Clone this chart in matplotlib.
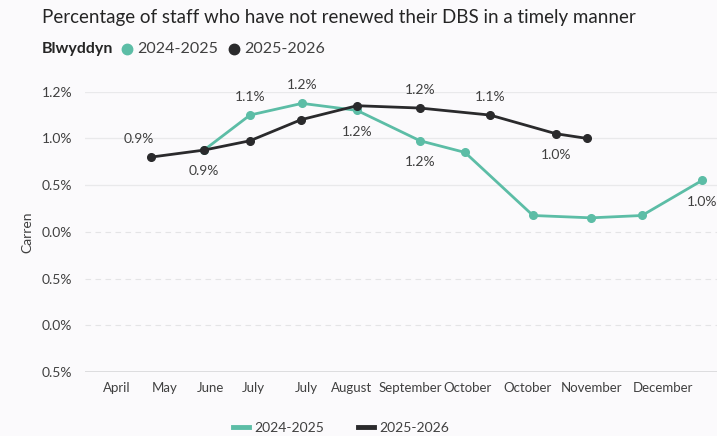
import matplotlib.pyplot as plt
from matplotlib.lines import Line2D

plt.rcParams['font.family'] = ['Lato', 'DejaVu Sans']

# x positions on a continuous scale (axis runs 0 .. 63.2)
tick_pos = [3.2, 8.0, 12.5, 16.8, 22.1, 26.7, 32.5, 38.3, 44.3, 50.7, 57.8]
tick_labels = ['April', 'May', 'June', 'July', 'July', 'August', 'September',
               'October', 'October', 'November', 'December']

x_2425 = [11.9, 16.5, 21.7, 27.2, 33.5, 38.0, 44.8, 50.6, 55.7, 61.7]
y_2425 = [0.95, 1.10, 1.15, 1.12, 0.99, 0.94, 0.67, 0.66, 0.67, 0.82]

x_2526 = [6.6, 11.9, 16.5, 21.6, 27.2, 33.5, 40.5, 47.1, 50.2]
y_2526 = [0.92, 0.95, 0.99, 1.08, 1.14, 1.13, 1.10, 1.02, 1.00]

# data labels: (index, text, above?)
labels_2425 = [(1, '1.1%', True), (2, '1.2%', True), (3, '1.2%', False),
               (4, '1.2%', False), (9, '1.0%', False)]
labels_2526 = [(0, '0.9%', True), (1, '0.9%', False), (5, '1.2%', True),
               (6, '1.1%', True), (7, '1.0%', False)]

yticks = [0.0, 0.2, 0.4, 0.6, 0.8, 1.0, 1.2]
ytick_labels = ['0.5%', '0.0%', '0.5%', '0.0%', '0.5%', '1.0%', '1.2%']

teal = '#5cbda6'
dark = '#2a2a2c'
bg = '#fbfafc'
txt = '#404040'

fig = plt.figure(figsize=(7.17, 4.36), dpi=100, facecolor=bg)
ax = fig.add_axes([85/717, 1 - 372/436, 632/717, (372 - 91.7)/436], facecolor=bg)

for v in yticks:
    if v == 0.0:
        ax.axhline(v, color='#d8d8da', lw=1.2, zorder=0)
    elif v in (0.2, 0.4, 0.6):
        ax.axhline(v, color='#e4e4e6', lw=0.8, ls=(0, (5, 4)), zorder=0)
    else:
        ax.axhline(v, color='#e9e9eb', lw=0.9, zorder=0)

ax.plot(x_2425, y_2425, color=teal, lw=2, marker='o', ms=5.5, zorder=3)
ax.plot(x_2526, y_2526, color=dark, lw=2, marker='o', ms=5.5, zorder=4)

for i, t, up in labels_2425:
    ax.annotate(t, (x_2425[i], y_2425[i]), xytext=(0, 9 if up else -11),
                textcoords='offset points', ha='center',
                va='bottom' if up else 'top', fontsize=10, color=txt)
for i, t, up in labels_2526:
    ax.annotate(t, (x_2526[i], y_2526[i]), xytext=(-9 if i == 0 else 0, 9 if up else -11),
                textcoords='offset points', ha='center',
                va='bottom' if up else 'top', fontsize=10, color=txt)

ax.set_xlim(0, 63.2)
ax.set_ylim(0, 1.2)
ax.set_xticks(tick_pos)
ax.set_xticklabels(tick_labels, fontsize=9.5, color=txt)
ax.set_yticks(yticks)
ax.set_yticklabels(ytick_labels, fontsize=10, color=txt)
ax.tick_params(length=0, pad=9)
ax.tick_params(axis='x', pad=7)
for s in ax.spines.values():
    s.set_visible(False)

ax.set_ylabel('Carren', fontsize=10, color=txt, labelpad=6)

fig.text(42/717, 1 - 18/436, 'Percentage of staff who have not renewed their DBS in a timely manner',
         fontsize=13.5, color='#252525', va='center')

# top legend
fig.text(42/717, 1 - 49/436, 'Blwyddyn', fontsize=11.5, fontweight='bold', color='#252525', va='center')
fig.add_artist(Line2D([127/717], [1 - 49/436], marker='o', color=teal, ms=7.5, ls=''))
fig.text(137/717, 1 - 49/436, '2024-2025', fontsize=11.5, color=txt, va='center')
fig.add_artist(Line2D([234/717], [1 - 49/436], marker='o', color=dark, ms=7.5, ls=''))
fig.text(244/717, 1 - 49/436, '2025-2026', fontsize=11.5, color=txt, va='center')

# bottom legend
handles = [Line2D([], [], color=teal, lw=3.5), Line2D([], [], color=dark, lw=3.5)]
fig.legend(handles, ['2024-2025', '2025-2026'], loc='center', ncol=2,
           bbox_to_anchor=(341/717, 1 - 428/436), frameon=False, fontsize=10,
           handlelength=1.15, handletextpad=0.4, columnspacing=2.4, labelcolor=txt)

fig.savefig('out.png', dpi=100, facecolor=bg)
